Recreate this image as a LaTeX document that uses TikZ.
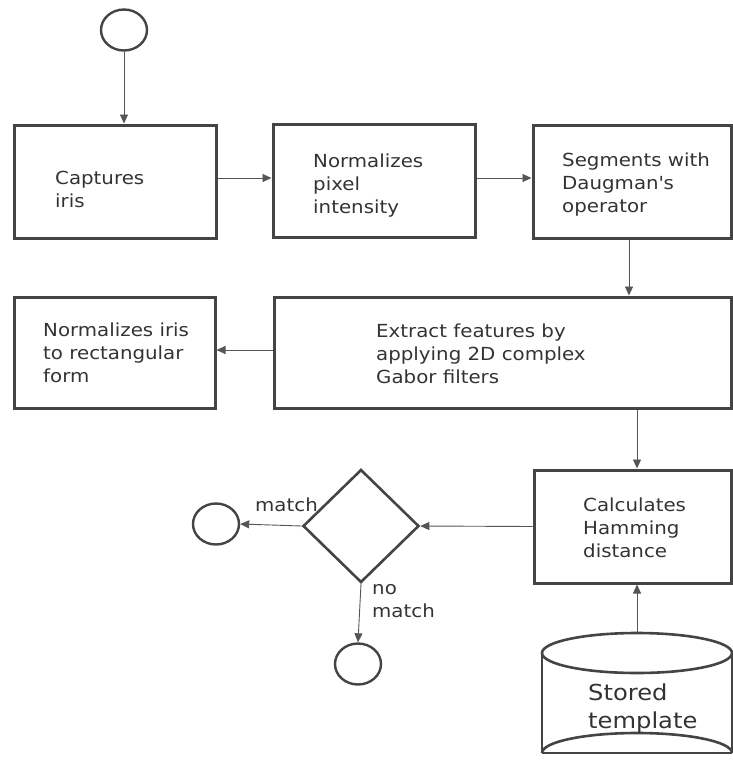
\documentclass[tikz,border=0pt]{standalone}
\usepackage{fontspec}
\setmainfont{DejaVu Sans}[FakeStretch=1.1]
\usetikzlibrary{shapes.geometric,arrows.meta}
\definecolor{edge}{HTML}{444444}
\definecolor{wire}{HTML}{555555}
\definecolor{ink}{HTML}{333333}
\tikzset{
  box/.style={draw=edge, line width=3pt, rectangle, inner sep=0pt},
  term/.style={draw=edge, line width=2.4pt, ellipse, minimum width=46pt, minimum height=41pt, inner sep=0pt},
  decide/.style={draw=edge, line width=2.6pt, diamond, minimum width=116pt, minimum height=113pt, inner sep=0pt},
  % multi-line texts are placed by the baseline of their last line
  txt/.style={text=ink, inner sep=0pt, anchor=base west, align=left, font=\fontsize{18}{23}\selectfont},
  flow/.style={draw=wire, line width=0.9pt, -{Triangle[length=9pt,width=8pt]}},
}
\begin{document}
\begin{tikzpicture}[x=1pt,y=-1pt]
\useasboundingbox (0,0) rectangle (733,769);

% terminals
\node[term] (start) at (124,30) {};
\node[term] (matchend) at (216,524) {};
\node[term] (nomatchend) at (358,664) {};

% process boxes
\node[box, minimum width=202pt, minimum height=113pt] (capture) at (115,181.5) {};
\node[box, minimum width=202pt, minimum height=113pt] (normpix) at (374,180.5) {};
\node[box, minimum width=198pt, minimum height=113pt] (segment) at (632,181.5) {};
\node[box, minimum width=201pt, minimum height=111pt] (normiris) at (114.5,352.5) {};
\node[box, minimum width=457pt, minimum height=111pt] (extract) at (502.5,352.5) {};
\node[box, minimum width=197pt, minimum height=113pt] (hamming) at (632.5,526.5) {};

% decision
\node[decide] (test) at (361,526) {};

% box texts
\node[txt] (tcapture) at (55,207) {Captures\\iris};
\node[txt] (tnormpix) at (313,213) {Normalizes\\pixel\\intensity};
\node[txt] (tsegment) at (562,212) {Segments with\\Daugman\textquotesingle s\\operator};
\node[txt] (tnormiris) at (43,382) {Normalizes iris\\to rectangular\\form};
\node[txt] (textract) at (376,383) {Extract features by\\applying 2D complex\\Gabor filters};
\node[txt] (thamming) at (583,557) {Calculates\\Hamming\\distance};

% stored template (database cylinder)
\begin{scope}[draw=edge, line width=2.6pt]
  \draw (542,653) -- (542,753);
  \draw (732,653) -- (732,753);
  \draw (637,653) ellipse [x radius=95, y radius=20];
  \draw (542,753) -- (732,753);
  \draw (542,753) arc [start angle=180, end angle=360, x radius=95, y radius=20];
\end{scope}
\coordinate (storetop) at (637,633);
\node[txt, font=\fontsize{22}{28}\selectfont] (tstore) at (588,728) {Stored\\template};

% connectors
\draw[flow] (start) -- (start |- capture.north);
\draw[flow] (capture.east |- 0,178) -- (normpix.west |- 0,178);
\draw[flow] (normpix.east |- 0,178) -- (segment.west |- 0,178);
\draw[flow] (segment.south -| 629,0) -- (extract.north -| 629,0);
\draw[flow] (extract.west |- 0,350) -- (normiris.east |- 0,350);
\draw[flow] (extract.south -| 637,0) -- (hamming.north -| 637,0);
\draw[flow] (storetop) -- (hamming.south -| storetop);
\draw[flow] (hamming.west) -- (test.east);
\draw[flow] (test.west) -- (matchend.east);
\draw[flow] (test.south) -- (nomatchend.north);

% branch labels
\node[txt] (lmatch) at (255,511) {match};
\node[txt] (lnomatch) at (372,617) {no\\match};
\end{tikzpicture}
\end{document}
